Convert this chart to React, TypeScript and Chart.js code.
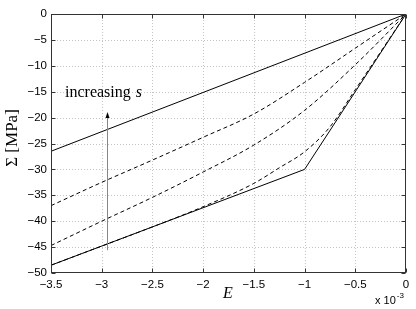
import React, { useEffect, useRef } from 'react';
import { Chart, registerables } from 'chart.js';

Chart.register(...registerables);

// Strain axis in units of 10^-3
const xTicks = [-3.5, -3, -2.5, -2, -1.5, -1, -0.5, 0];
const yTicks = [-50, -45, -40, -35, -30, -25, -20, -15, -10, -5, 0];

const upperX = [-3.5, 0];
const upperY = [-26.5, 0];

const dashed1X = [-3.5, -3, -2.5, -2, -1.5, -1, -0.5, 0];
const dashed1Y = [-37, -32.5, -28.2, -23.8, -19.3, -13.2, -6.6, 0];

const dashed2X = [-3.5, -3, -2.5, -2, -1.5, -1, -0.5, 0];
const dashed2Y = [-44.7, -40, -35.4, -30.5, -25.3, -18.6, -9.8, 0];

const dashed3X = [-3.5, -3, -2.5, -2, -1.5, -1.25, -1, -0.75, -0.5, -0.25, 0];
const dashed3Y = [-48.5, -44.8, -41.1, -37.2, -32.7, -29.7, -26.6, -21.8, -14.6, -7.3, 0];

const lowerX = [-3.5, -1, 0];
const lowerY = [-48.5, -30, 0];

const arrowX = -2.945;
const arrowFromY = -45.6;
const arrowToY = -18.9;

const annotationText = 'increasing ';
const annotationVar = 's';
const xTitle = 'E';
const yTitle = 'Σ [MPa]';

const pts = (xs: number[], ys: number[]) => xs.map((x, i) => ({ x, y: ys[i] }));
const fmt = (v: number) => String(v).replace('-', '\u2212');

const extrasPlugin = {
  id: 'extras',
  beforeDatasetsDraw(chart: any) {
    const { ctx, chartArea: a, scales } = chart;
    const xs = scales.x, ys = scales.y;
    ctx.save();
    ctx.strokeStyle = '#c4c4c4';
    ctx.lineWidth = 1;
    ctx.setLineDash([1, 2]);
    xTicks.forEach((t) => {
      const px = Math.round(xs.getPixelForValue(t)) + 0.5;
      if (px <= a.left + 1 || px >= a.right - 1) return;
      ctx.beginPath();
      ctx.moveTo(px, a.top);
      ctx.lineTo(px, a.bottom);
      ctx.stroke();
    });
    yTicks.forEach((t) => {
      const py = Math.round(ys.getPixelForValue(t)) + 0.5;
      if (py <= a.top + 1 || py >= a.bottom - 1) return;
      ctx.beginPath();
      ctx.moveTo(a.left, py);
      ctx.lineTo(a.right, py);
      ctx.stroke();
    });
    ctx.restore();
  },
  afterDatasetsDraw(chart: any) {
    const { ctx, chartArea: a, scales } = chart;
    const xs = scales.x, ys = scales.y;
    ctx.save();
    // box
    ctx.strokeStyle = '#333';
    ctx.lineWidth = 1;
    ctx.setLineDash([]);
    const L = Math.round(a.left) + 0.5, R = Math.round(a.right) - 0.5;
    const T = Math.round(a.top) + 0.5, B = Math.round(a.bottom) - 0.5;
    ctx.strokeRect(L, T, R - L, B - T);
    // inward ticks
    const tl = 4;
    ctx.beginPath();
    xTicks.forEach((t) => {
      const px = Math.round(xs.getPixelForValue(t)) + 0.5;
      ctx.moveTo(px, B); ctx.lineTo(px, B - tl);
      ctx.moveTo(px, T); ctx.lineTo(px, T + tl);
    });
    yTicks.forEach((t) => {
      const py = Math.round(ys.getPixelForValue(t)) + 0.5;
      ctx.moveTo(L, py); ctx.lineTo(L + tl, py);
      ctx.moveTo(R, py); ctx.lineTo(R - tl, py);
    });
    ctx.stroke();

    // arrow
    const ax = Math.round(xs.getPixelForValue(arrowX)) + 0.5;
    const ay0 = ys.getPixelForValue(arrowFromY);
    const ay1 = ys.getPixelForValue(arrowToY);
    ctx.strokeStyle = '#888';
    ctx.beginPath();
    ctx.moveTo(ax, ay0);
    ctx.lineTo(ax, ay1 + 4);
    ctx.stroke();
    ctx.fillStyle = '#000';
    ctx.beginPath();
    ctx.moveTo(ax, ay1);
    ctx.lineTo(ax - 2, ay1 + 6);
    ctx.lineTo(ax + 2, ay1 + 6);
    ctx.closePath();
    ctx.fill();

    // annotation text
    ctx.fillStyle = '#000';
    ctx.textBaseline = 'alphabetic';
    ctx.textAlign = 'left';
    ctx.font = '16px "Liberation Serif", "DejaVu Serif", serif';
    const tx = 65, ty = 97;
    ctx.fillText(annotationText, tx, ty);
    const w = ctx.measureText(annotationText).width;
    ctx.font = 'italic 16px "Liberation Serif", "DejaVu Serif", serif';
    ctx.fillText(annotationVar, tx + w + 1, ty);

    // x title
    ctx.textAlign = 'center';
    ctx.font = 'italic 16px "Liberation Serif", "DejaVu Serif", serif';
    ctx.fillText(xTitle, 228, 298);

    // x 10^-3
    ctx.textAlign = 'left';
    ctx.font = '11px "Liberation Sans", Arial, sans-serif';
    ctx.fillText('x 10', 375, 304);
    const w2 = ctx.measureText('x 10').width;
    ctx.font = '8px "Liberation Sans", Arial, sans-serif';
    ctx.fillText('-3', 375 + w2 + 1, 298);

    // y title
    ctx.translate(17, 138);
    ctx.rotate(-Math.PI / 2);
    ctx.textAlign = 'center';
    ctx.font = '17px "Liberation Serif", "DejaVu Serif", serif';
    ctx.fillText(yTitle, 0, 0);
    ctx.restore();
  },
};

export default function App() {
  const ref = useRef<HTMLCanvasElement | null>(null);
  useEffect(() => {
    if (!ref.current) return;
    const line = (data: any, dashed: boolean, smooth: boolean) => ({
      data,
      borderColor: '#000',
      borderWidth: 1,
      borderDash: dashed ? [4, 3] : [],
      pointRadius: 0,
      fill: false,
      cubicInterpolationMode: smooth ? 'monotone' : 'default',
      tension: 0,
    });
    const chart = new Chart(ref.current, {
      type: 'line',
      data: {
        datasets: [
          line(pts(upperX, upperY), false, false),
          line(pts(dashed1X, dashed1Y), true, true),
          line(pts(dashed2X, dashed2Y), true, true),
          line(pts(dashed3X, dashed3Y), true, true),
          line(pts(lowerX, lowerY), false, false),
        ] as any,
      },
      options: {
        animation: false,
        responsive: false,
        layout: { padding: { top: 14, right: 10, left: 0, bottom: 0 } },
        plugins: { legend: { display: false }, tooltip: { enabled: false } },
        scales: {
          x: {
            type: 'linear',
            min: -3.5,
            max: 0,
            afterBuildTicks: (s: any) => { s.ticks = xTicks.map((v) => ({ value: v })); },
            afterFit: (s: any) => { s.height = 36; },
            grid: { display: false, drawTicks: false },
            border: { display: false },
            ticks: {
              padding: 5,
              color: '#000',
              maxRotation: 0,
              autoSkip: false,
              font: { family: '"Liberation Sans", Arial, sans-serif', size: 11.5 },
              callback: (v: any) => fmt(Number(v)),
            },
          },
          y: {
            type: 'linear',
            min: -50,
            max: 0,
            afterBuildTicks: (s: any) => { s.ticks = yTicks.map((v) => ({ value: v })); },
            afterFit: (s: any) => { s.width = 51; },
            grid: { display: false, drawTicks: false },
            border: { display: false },
            ticks: {
              padding: 4,
              color: '#000',
              autoSkip: false,
              font: { family: '"Liberation Sans", Arial, sans-serif', size: 11.5 },
              callback: (v: any) => fmt(Number(v)),
            },
          },
        },
      } as any,
      plugins: [extrasPlugin],
    });
    return () => chart.destroy();
  }, []);
  return (
    <div style={{ position: 'absolute', left: 0, top: 0, width: 416, height: 309, background: '#fff' }}>
      <canvas ref={ref} width={416} height={309} style={{ display: 'block' }} />
    </div>
  );
}
